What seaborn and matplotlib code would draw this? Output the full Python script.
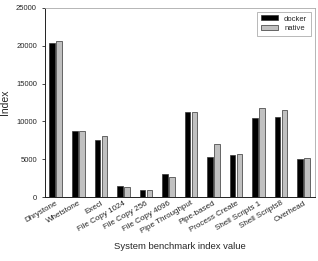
import matplotlib.pyplot as plt
import pandas as pd
import seaborn as sns

# benchmark values
tests = ['Dhrystone', 'Whetstone', 'Execl', 'File Copy 1024', 'File Copy 256',
         'File Copy 4096', 'Pipe Throughput', 'Pipe-based', 'Process Create',
         'Shell Scripts 1', 'Shell Scripts8', 'Overhead']
docker = [20400, 8700, 7600, 1400, 900, 3000, 11200, 5300, 5500, 10500, 10600, 5000]
native = [20600, 8700, 8100, 1350, 900, 2600, 11200, 7000, 5700, 11700, 11500, 5100]

df = pd.DataFrame({
    'test': tests * 2,
    'Index': docker + native,
    'env': ['docker'] * len(tests) + ['native'] * len(tests),
})

sns.set_style('white')
plt.rcParams['font.family'] = ['Liberation Sans', 'DejaVu Sans']

fig = plt.figure(figsize=(3.18, 2.61), dpi=100)
ax = fig.add_axes([0.14, 0.245, 0.85, 0.725])
sns.barplot(data=df, x='test', y='Index', hue='env', palette=['black', '#c0c0c0'],
            width=0.62, gap=0.2, edgecolor='#333333', linewidth=0.5, ax=ax)

ax.set_ylim(0, 25000)
ax.set_yticks([0, 5000, 10000, 15000, 20000, 25000])
ax.tick_params(axis='y', labelsize=5.5, length=2, width=0.6, direction='out', left=True)
ax.tick_params(axis='x', labelsize=5.8, length=0, pad=2)
plt.setp(ax.get_xticklabels(), rotation=30, ha='right', rotation_mode='anchor')
ax.set_xlabel('System benchmark index value', fontsize=6.8, labelpad=5)
ax.set_ylabel('Index', fontsize=7.5)
for s in ['left', 'bottom']:
    ax.spines[s].set_color('#222222')
    ax.spines[s].set_linewidth(0.7)
for s in ['top', 'right']:
    ax.spines[s].set_color('#aaaaaa')
    ax.spines[s].set_linewidth(0.6)

leg = ax.legend(title=None, fontsize=5.5, loc='upper right', frameon=True,
                fancybox=False, edgecolor='#999999', handlelength=2.2,
                handleheight=0.6, borderpad=0.5, labelspacing=0.3)
leg.get_frame().set_linewidth(0.6)

fig.savefig('out.png', dpi=100)
